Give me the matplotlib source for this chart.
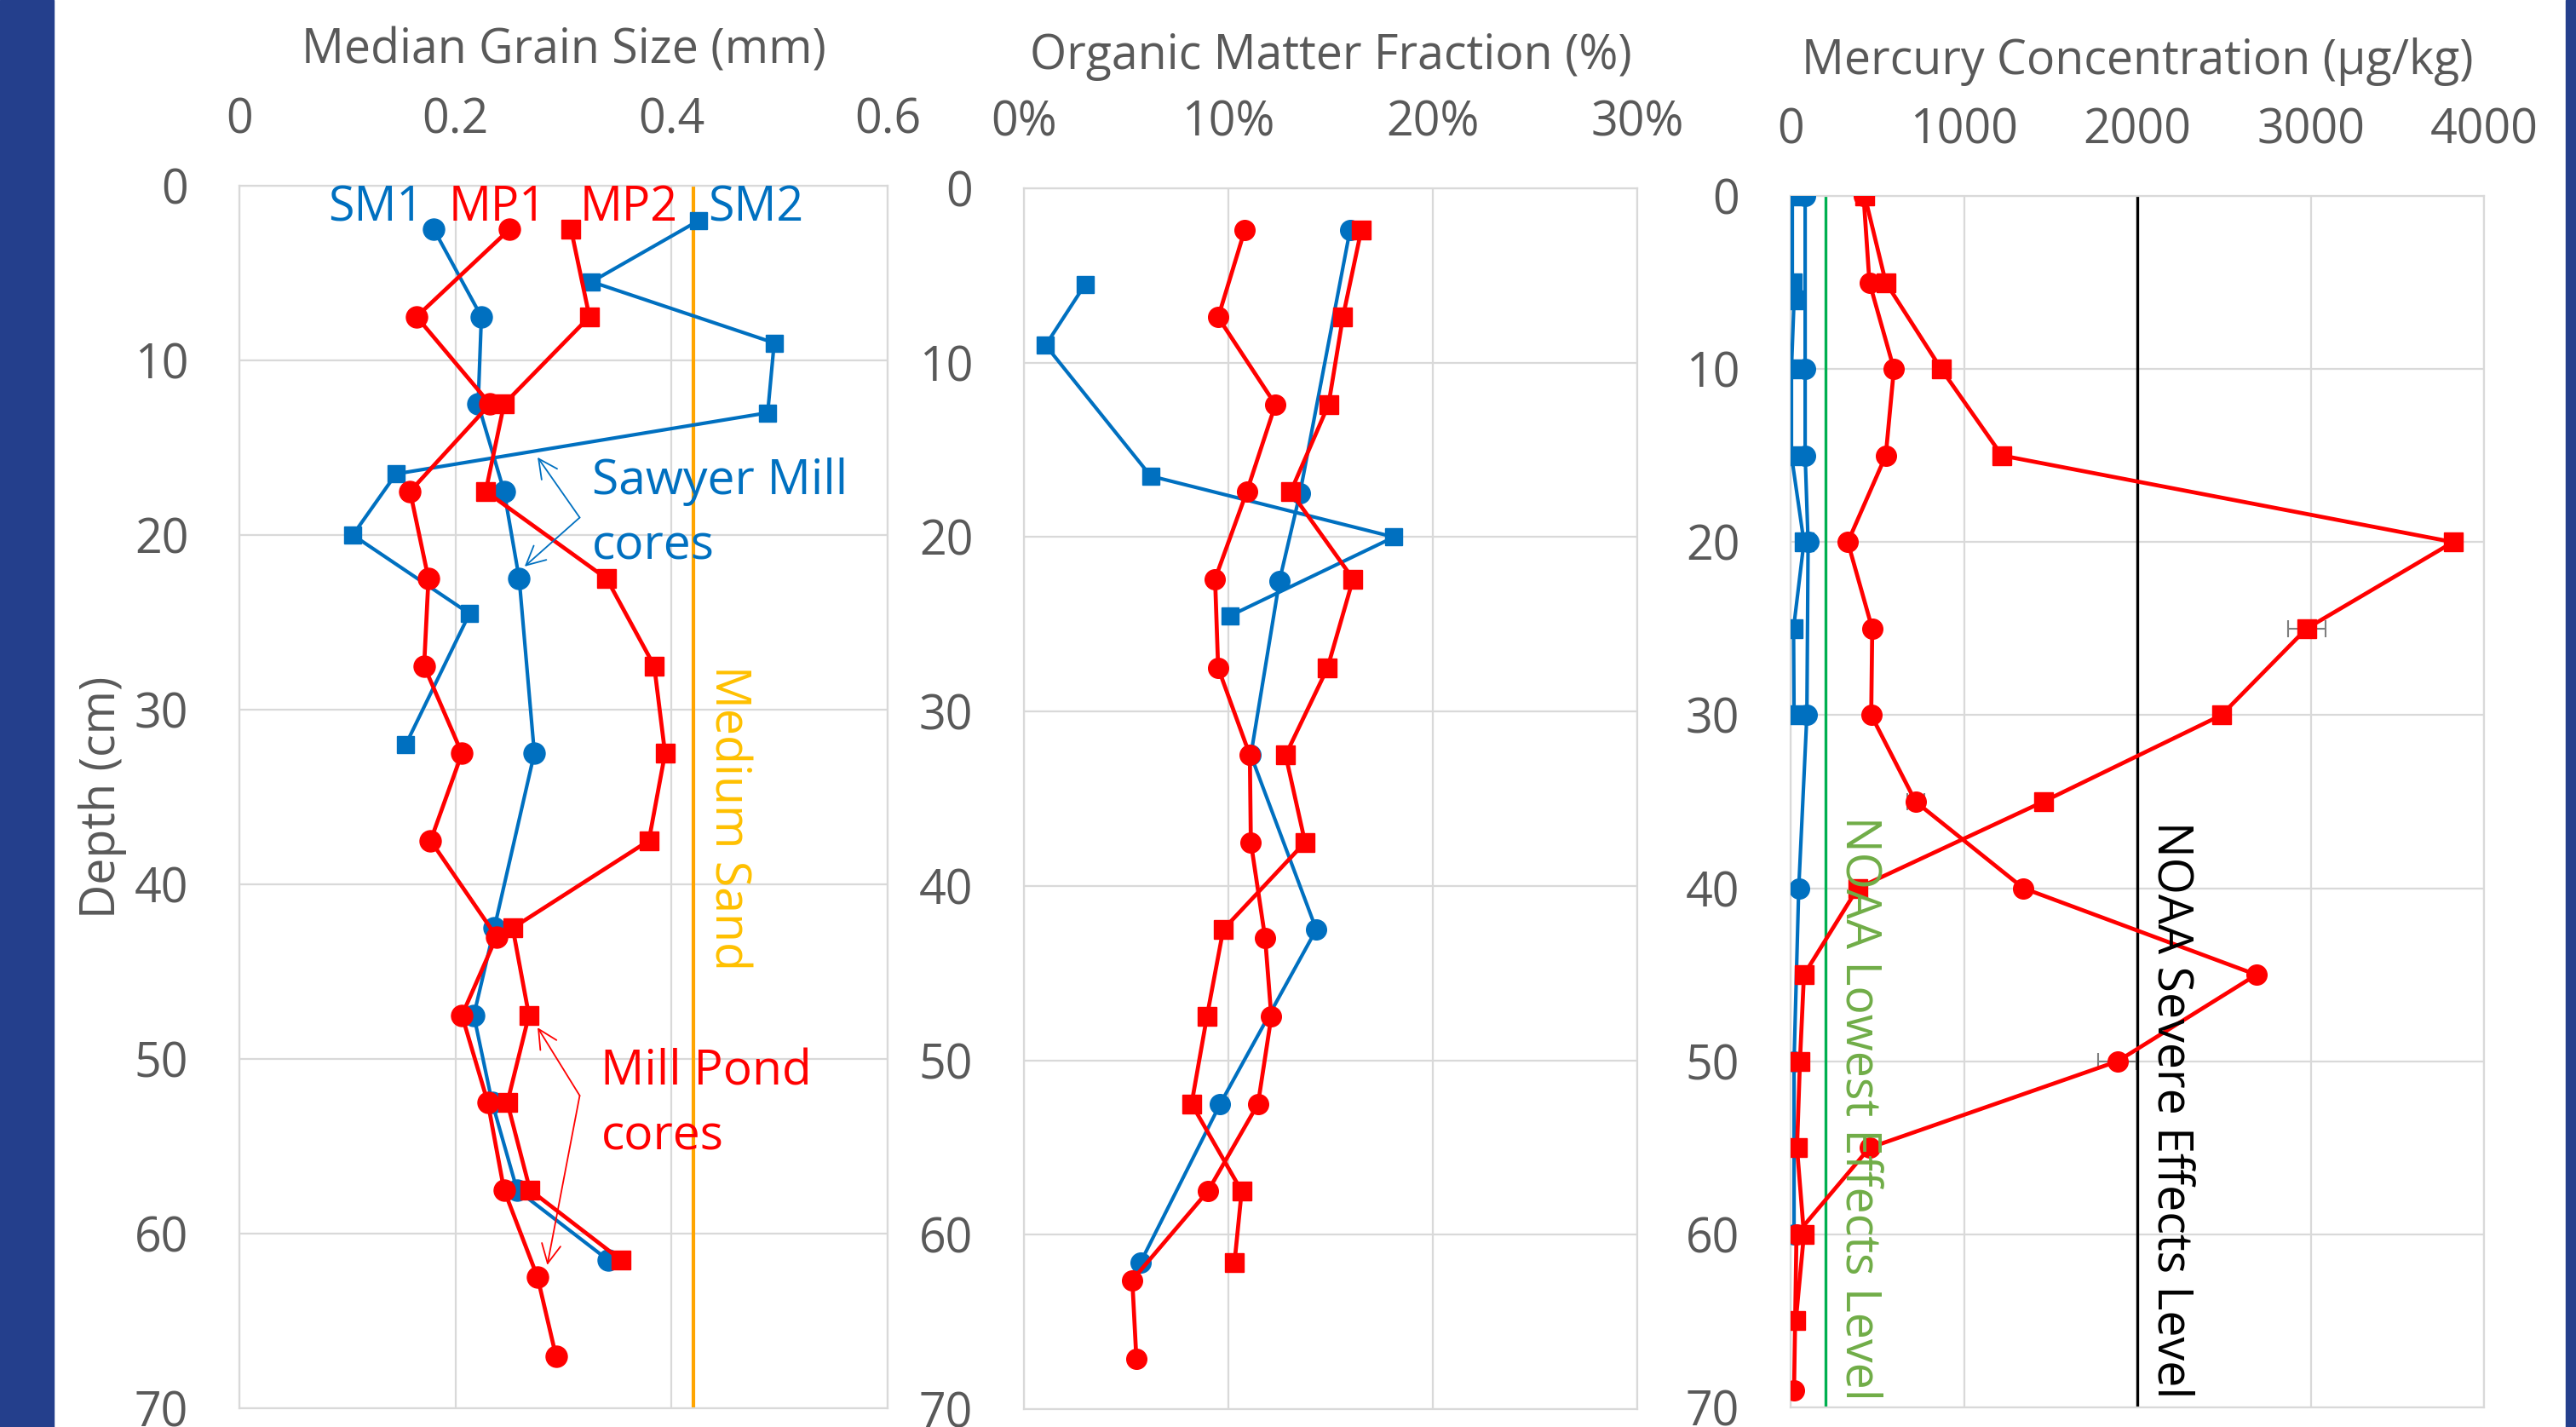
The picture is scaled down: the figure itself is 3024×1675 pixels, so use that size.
import numpy as np
import matplotlib.pyplot as plt
from matplotlib.patches import Rectangle
from matplotlib.ticker import PercentFormatter

plt.rcParams['font.family'] = ['Open Sans', 'DejaVu Sans']

BLUE = '#0070C0'
RED = '#FF0000'
GREY = '#595959'
GRID = '#D9D9D9'

# ---- grain size (mm) ----
gs_sm1_depth = [2.5, 7.5, 12.5, 17.5, 22.5, 32.5, 42.5, 47.5, 52.5, 57.5, 61.5]
gs_sm1 = [0.180, 0.224, 0.221, 0.245, 0.259, 0.273, 0.236, 0.217, 0.234, 0.257, 0.341]
gs_sm2_depth = [2.0, 5.5, 9.0, 13.0, 16.5, 20.0, 24.5, 32.0]
gs_sm2 = [0.425, 0.326, 0.495, 0.489, 0.145, 0.105, 0.213, 0.154]
gs_mp1_depth = [2.5, 7.5, 12.5, 17.5, 22.5, 27.5, 32.5, 37.5, 43.0, 47.5, 52.5, 57.5, 62.5, 67.0]
gs_mp1 = [0.250, 0.164, 0.232, 0.158, 0.175, 0.171, 0.206, 0.177, 0.238, 0.206, 0.230, 0.245, 0.276, 0.293]
gs_mp2_depth = [2.5, 7.5, 12.5, 17.5, 22.5, 27.5, 32.5, 37.5, 42.5, 47.5, 52.5, 57.5, 61.5]
gs_mp2 = [0.307, 0.324, 0.245, 0.228, 0.340, 0.384, 0.394, 0.379, 0.253, 0.268, 0.248, 0.269, 0.353]
medium_sand = 0.42

# ---- organic matter fraction (%) ----
om_sm1_depth = [2.4, 17.5, 22.5, 32.5, 42.5, 52.5, 61.6]
om_sm1 = [15.95, 13.5, 12.5, 11.1, 14.3, 9.6, 5.7]
om_sm2_depth = [5.5, 9.0, 16.5, 20.0, 24.5]
om_sm2 = [3.0, 1.06, 6.2, 18.1, 10.1]
om_mp1_depth = [2.4, 7.4, 12.4, 17.4, 22.4, 27.5, 32.5, 37.5, 43.0, 47.5, 52.5, 57.5, 62.6, 67.1]
om_mp1 = [10.8, 9.5, 12.3, 10.9, 9.35, 9.5, 11.05, 11.1, 11.8, 12.1, 11.45, 9.0, 5.3, 5.5]
om_mp2_depth = [2.4, 7.4, 12.4, 17.4, 22.4, 27.5, 32.5, 37.5, 42.5, 47.5, 52.5, 57.5, 61.6]
om_mp2 = [16.5, 15.6, 14.9, 13.05, 16.1, 14.85, 12.8, 13.75, 9.75, 8.95, 8.2, 10.65, 10.3]

# ---- mercury (ug/kg) ----
hg_sm1_depth = [0, 10, 15, 20, 30, 40, 50, 60]
hg_sm1 = [84, 84, 84, 101, 94, 47, 20, 20]
hg_sm2_depth = [0, 5, 6, 10, 15, 20, 25, 30]
hg_sm2 = [10, 10, 20, 5, 5, 77, 17, 20]
hg_mp1_depth = [0, 5, 10, 15, 20, 25, 30, 35, 40, 45, 50, 55, 60, 69]
hg_mp1 = [421, 455, 596, 549, 330, 471, 465, 721, 1343, 2687, 1886, 455, 34, 20]
hg_mp1_err = [0, 0, 0, 0, 0, 0, 0, 50, 0, 0, 110, 0, 0, 0]
hg_mp2_depth = [0, 5, 10, 15, 20, 25, 30, 35, 40, 45, 50, 55, 60, 65]
hg_mp2 = [428, 549, 869, 1219, 3822, 2976, 2485, 1458, 387, 77, 54, 37, 77, 30]
hg_mp2_err = [0, 0, 0, 0, 0, 108, 0, 0, 0, 0, 0, 0, 0, 0]
noaa_lel = 200
noaa_sel = 2000

W, H = 3024, 1675
fig = plt.figure(figsize=(W / 100, H / 100), dpi=100)
fig.patches.append(Rectangle((0, 0), 63 / W, 1, transform=fig.transFigure, color='#243F8C', zorder=0))
fig.patches.append(Rectangle((3012 / W, 0), 12 / W, 1, transform=fig.transFigure, color='#243F8C', zorder=0))


def make_ax(l, r, t, b):
    ax = fig.add_axes([l / W, 1 - b / H, (r - l) / W, (b - t) / H])
    ax.set_ylim(70, 0)
    ax.set_yticks(range(0, 71, 10))
    ax.xaxis.tick_top()
    ax.xaxis.set_label_position('top')
    ax.tick_params(axis='x', length=0, pad=34, labelsize=40, labelcolor=GREY)
    ax.tick_params(axis='y', length=0, pad=43, labelsize=40, labelcolor=GREY)
    ax.grid(True, color=GRID, lw=1.6)
    ax.set_axisbelow(True)
    for s in ax.spines.values():
        s.set_color(GRID)
        s.set_linewidth(1.6)
    return ax


def series(ax, x, y, color, marker, ms, lw=3.4):
    ax.plot(x, y, color=color, lw=lw, marker=marker, ms=ms, mec=color, mfc=color, zorder=3)


# panel 1
ax1 = make_ax(281, 1042, 218, 1653)
ax1.set_xlim(0, 0.6)
ax1.set_xticks([0, 0.2, 0.4, 0.6])
ax1.set_xticklabels(['0', '0.2', '0.4', '0.6'])
series(ax1, gs_sm1, gs_sm1_depth, BLUE, 'o', 18, lw=3.0)
series(ax1, gs_sm2, gs_sm2_depth, BLUE, 's', 15, lw=3.0)
series(ax1, gs_mp1, gs_mp1_depth, RED, 'o', 18)
series(ax1, gs_mp2, gs_mp2_depth, RED, 's', 16.5)
ax1.axvline(medium_sand, color='#FFA500', lw=3.0, zorder=2)
ax1.text(0.452, 36.2, 'Medium Sand', rotation=270, color='#FFC000', fontsize=40,
         ha='center', va='center')
ax1.set_xlabel('Median Grain Size (mm)', fontsize=40, color=GREY, labelpad=28)
ax1.set_ylabel('Depth (cm)', fontsize=40, color=GREY, labelpad=6)
for lbl, xc, col in [('SM1', 0.1265, BLUE), ('MP1', 0.239, RED), ('MP2', 0.3606, RED), ('SM2', 0.478, BLUE)]:
    ax1.text(xc, 1.3, lbl, color=col, fontsize=40, ha='center', va='center')
ax1.text(0.3264, 17.66, 'Sawyer Mill', color=BLUE, fontsize=41, va='baseline')
ax1.text(0.3264, 21.37, 'cores', color=BLUE, fontsize=41, va='baseline')
ax1.text(0.3346, 51.5, 'Mill Pond', color=RED, fontsize=41, va='baseline')
ax1.text(0.3346, 55.2, 'cores', color=RED, fontsize=41, va='baseline')
for vx, vy, tx, ty, col in [(0.315, 19.0, 0.276, 15.55, BLUE), (0.315, 19.0, 0.264, 21.8, BLUE),
                            (0.315, 52.1, 0.276, 48.2, RED), (0.315, 52.1, 0.285, 61.8, RED)]:
    ax1.annotate('', xy=(tx, ty), xytext=(vx, vy),
                 arrowprops=dict(arrowstyle='->', color=col, lw=1.3, mutation_scale=40, shrinkA=0, shrinkB=0))

# panel 2
ax2 = make_ax(1202, 1922, 221, 1654)
ax2.set_xlim(0, 30)
ax2.set_xticks([0, 10, 20, 30])
ax2.xaxis.set_major_formatter(PercentFormatter(decimals=0))
series(ax2, om_sm1, om_sm1_depth, BLUE, 'o', 17, lw=3.0)
series(ax2, om_sm2, om_sm2_depth, BLUE, 's', 15, lw=3.0)
series(ax2, om_mp1, om_mp1_depth, RED, 'o', 17)
series(ax2, om_mp2, om_mp2_depth, RED, 's', 16)
ax2.set_xlabel('Organic Matter Fraction (%)', fontsize=40, color=GREY, labelpad=26)

# panel 3
ax3 = make_ax(2102, 2916, 230, 1652)
ax3.set_xlim(0, 4000)
ax3.set_xticks(range(0, 4001, 1000))
series(ax3, hg_sm2, hg_sm2_depth, BLUE, 's', 16, lw=3.0)
series(ax3, hg_sm1, hg_sm1_depth, BLUE, 'o', 17, lw=3.0)
series(ax3, hg_mp1, hg_mp1_depth, RED, 'o', 17)
series(ax3, hg_mp2, hg_mp2_depth, RED, 's', 16)
for xs, ys, es in [(hg_mp1, hg_mp1_depth, hg_mp1_err), (hg_mp2, hg_mp2_depth, hg_mp2_err)]:
    idx = np.nonzero(es)[0]
    ax3.errorbar(np.array(xs)[idx], np.array(ys)[idx], xerr=np.array(es)[idx], fmt='none',
                 ecolor='#7F7F7F', elinewidth=1.5, capsize=7, capthick=1.5, zorder=2)
ax3.axvline(noaa_lel, color='#00B050', lw=2.4, zorder=2)
ax3.axvline(noaa_sel, color='black', lw=2.4, zorder=2)
ax3.text(388, 52.7, 'NOAA Lowest Effects Level', rotation=270, color='#70AD47', fontsize=40,
         ha='center', va='center')
ax3.text(2187, 52.8, 'NOAA Severe Effects Level', rotation=270, color='black', fontsize=40,
         ha='center', va='center')
ax3.set_xlabel('Mercury Concentration (\u00b5g/kg)', fontsize=40, color=GREY, labelpad=28)

fig.savefig('out.png', dpi=100)
